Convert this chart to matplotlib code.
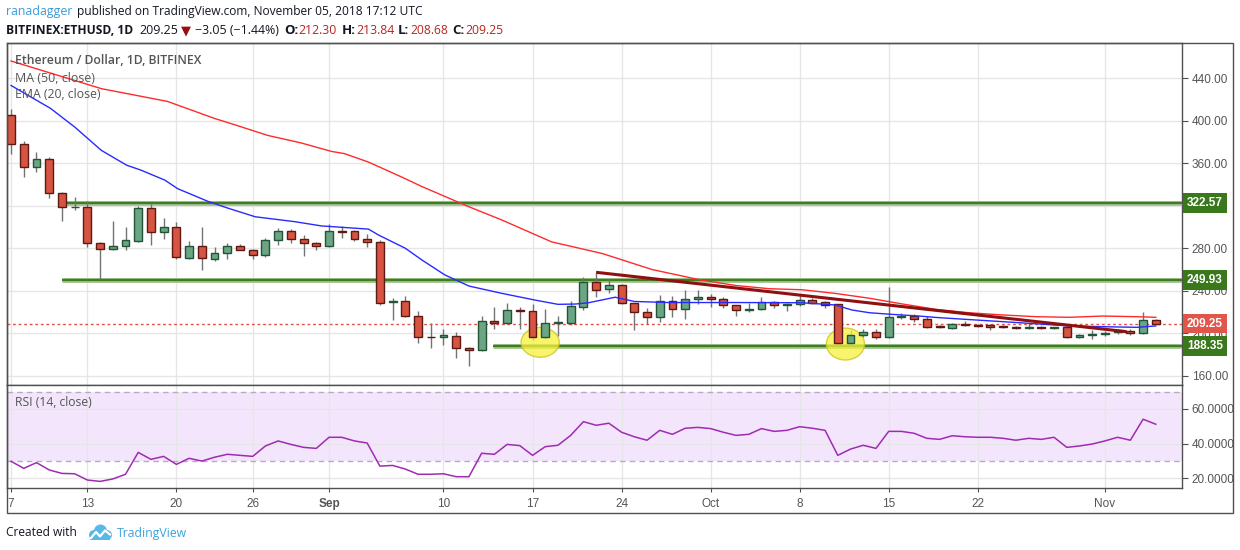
import matplotlib
matplotlib.use("Agg")
import matplotlib.pyplot as plt
import matplotlib.transforms as mtransforms
from matplotlib.patches import Rectangle, Ellipse, Circle

# ---------------- data ----------------
opens = [405, 378, 356, 364, 332, 318.5, 318.5, 285, 279, 282, 287, 318, 295, 300, 271, 282, 270, 276, 282, 278,
         274, 288, 296, 289, 285, 282, 296, 296, 289, 285.5, 229.5, 230, 216, 197, 196.3, 198, 186, 184, 211.3, 209.5,
         221.7, 221, 196.3, 209.5, 210, 225.1, 248, 241.4, 245.2, 228.3, 219.8, 215.1, 230.1, 222.6, 232, 234.2, 232, 226.4, 222, 222.6,
         229.2, 226.4, 227.3, 231.1, 229.2, 227.3, 191.2, 198.2, 201.6, 196.9, 215.1, 216.3, 213.2, 206.9, 205.3, 208.8, 207.5, 207.8, 206.9, 206,
         205.2, 205.8, 205.3, 205.6, 196.9, 198.2, 199.4, 201, 202.6, 200.7, 212.30]
highs = [411, 381, 370, 366, 333, 328, 324, 286, 306, 300, 320, 322, 308, 305, 287, 300, 281, 285, 284, 279,
         290, 299, 298, 292, 286, 303, 301, 297, 293, 288, 233, 235, 221, 209.5, 204, 201, 187, 216, 224.5, 228.5,
         224.5, 227.6, 223, 216.3, 230, 253.3, 256.5, 250.8, 246.4, 229, 224.1, 236.1, 235.1, 240.8, 240.8, 237, 234, 227, 228.3, 234.5,
         230, 229, 236.1, 233, 230, 228, 203.2, 204.1, 204, 243.9, 219.5, 218, 216, 208, 210, 211.3, 209, 209, 208, 207,
         209.4, 207, 206, 207, 199, 203.2, 202, 204, 204, 220.1, 213.84]
lows = [369, 347, 352, 327, 306, 316, 281, 251, 278, 278, 286, 283, 289, 270, 270, 260, 268, 270, 278, 270,
        272, 283, 285, 273, 278, 281, 290, 287, 281, 227, 213, 215, 191, 186.5, 189, 177, 169, 183, 204.4, 209,
        204.4, 194, 195, 197.2, 208, 222, 234.5, 238.2, 228, 203.5, 208.5, 211, 215.7, 213.8, 227.6, 225, 223.6, 216, 220, 222,
        224.1, 221.3, 226, 228, 224, 189.1, 190, 197, 195, 196, 213.2, 211, 204.7, 205, 204, 207, 206, 203.2, 205, 204,
        204, 204, 204, 196, 196, 194.4, 198, 199, 198.2, 199.5, 208.68]
closes = [378, 356, 364, 332, 318.5, 319, 285, 279, 282, 288, 318, 295, 300, 272, 282, 271, 276, 282, 278, 274,
          288, 296, 289, 285, 282, 296, 295.5, 289, 285.5, 229, 230, 216, 197, 196.5, 198.2, 186, 184, 211.3, 209.5, 221.7,
          221, 196.3, 209.5, 210.7, 225.4, 248, 241.1, 245.2, 228.3, 219.8, 215.1, 230.1, 222.6, 232, 234.2, 232, 226.4, 221.7, 222.5, 229.2,
          226.4, 227.6, 231.1, 228.9, 227, 191.2, 198.2, 201.6, 196.9, 215.1, 216.3, 213.2, 206.3, 205.6, 208.8, 207.5, 207, 206.3, 205.6, 205.2,
          205.8, 205.3, 205.8, 196.9, 198.2, 199.4, 200.3, 203.2, 200.7, 212.3, 209.25]

ma50_x = [0, 7.1, 9.7, 12.3, 16, 17.6, 20.2, 22.8, 25.2, 26.2, 28.1, 29.4, 30.7, 32.3, 36, 38.6, 42.5, 46.5,
          50.4, 54.3, 57, 59.6, 62.2, 64.8, 67.5, 70.1, 72.7, 75.3, 78, 80.6, 83.2, 85.8, 88.5, 90]
ma50_y = [456, 430, 424, 418, 402, 396, 386, 379, 371, 369, 361, 354, 347, 338, 319, 306.5, 286, 275,
          260, 250, 245, 242, 241, 237.6, 233, 227.6, 222.6, 219.4, 217.3, 215.7, 215.1, 216.3, 215.7, 215.1]

ema20_x = [0, 3.1, 5, 7.1, 9.1, 10.2, 12.1, 13.1, 15.5, 17.1, 19.2, 22.3, 24.4, 28.1, 28.9, 31, 32.3, 34.1, 36,
           38.6, 41.2, 43, 44.4, 45.4, 47.5, 49, 51.7, 57, 62.2, 64.8, 66.1, 67.5, 69.1, 71.4, 72.7, 75.3, 78, 80.6,
           83.2, 85.8, 88.5, 90]
ema20_y = [433, 411.5, 394, 372, 358, 353.5, 344, 336, 324, 317.5, 309.6, 305, 301, 298, 292.4, 280, 269, 255, 244.5,
           237.6, 231.3, 227.3, 227.6, 228.8, 234, 230, 229, 229, 228.8, 226.7, 222, 219.4, 218, 216.3, 215, 213, 211, 209,
           207, 206.3, 205.7, 207]

rsi = [29.9, 25.8, 29.1, 24.9, 22.9, 22.7, 19.1, 18.3, 19.7, 22.4, 35.0, 31.0, 32.7, 28.1, 31.6, 30.0, 32.2, 33.9, 33.3, 32.7,
       38.7, 41.6, 39.6, 37.9, 37.3, 43.7, 43.7, 41.6, 40.4, 27.1, 27.5, 25.4, 22.4, 22.4, 22.7, 21.0, 21.0, 34.5, 33.9, 39.6,
       38.9, 33.3, 38.3, 39.1, 44.8, 52.7, 50.6, 51.8, 46.6, 44.0, 42.0, 47.7, 45.4, 48.9, 49.4, 48.7, 46.6, 44.8, 45.4, 48.7,
       47.1, 47.7, 49.8, 48.9, 47.7, 33.3, 36.9, 39.1, 37.3, 47.1, 47.1, 46.0, 43.1, 42.5, 44.6, 44.0, 43.7, 43.7, 43.1, 42.0,
       43.1, 42.5, 43.7, 37.9, 38.7, 39.8, 41.6, 43.7, 42.0, 54.1, 51.2]

levels = [322.57, 249.93, 188.35]
level_start = [4.3, 4.0, 37.9]
trend_x = [46.0, 87.7]
trend_y = [257.4, 201.6]
ellipse_x = [41.6, 65.6]
ellipse_y = [191.6, 190.0]

tick_idx = [0, 6, 13, 19, 25, 34, 41, 48, 55, 62, 69, 76, 86]
tick_lbl = ["7", "13", "20", "26", "Sep", "10", "17", "24", "Oct", "8", "15", "22", "Nov"]
price_ticks = [160, 200, 240, 280, 320, 360, 400, 440]
rsi_ticks = [20, 40, 60]

# ---------------- figure ----------------
W, H = 1240, 550
fig = plt.figure(figsize=(12.4, 5.5), dpi=100)
fig.patch.set_facecolor("white")
AX_FONT = "Liberation Sans"
TXT_FONT = "Open Sans"
GRID = "#e6e6e6"
FRAME = "#505050"
LBL = "#555555"


def fb(x0, y0, x1, y1):
    return [x0 / W, 1 - y1 / H, (x1 - x0) / W, (y1 - y0) / H]


ax = fig.add_axes(fb(6.7, 43, 1182, 385))
rx = fig.add_axes(fb(6.7, 385, 1182, 488), sharex=ax)

XL = (-0.34, 92.06)
ax.set_xlim(*XL)
ax.set_ylim(151.5, 472.9)
rx.set_ylim(14.5, 73.8)

for a in (ax, rx):
    a.set_facecolor("white")
    for s in a.spines.values():
        s.set_color(FRAME)
        s.set_linewidth(1)
    a.grid(True, color=GRID, lw=1)
    a.set_axisbelow(True)
    a.yaxis.tick_right()

# price axis ticks (the 320.00 label is hidden behind the 322.57 box in the reference)
ax.set_yticks(price_ticks)
ax.set_yticklabels(["" if v == 320 else f"{v:.2f}" for v in price_ticks], fontfamily=AX_FONT)
ax.tick_params(axis="y", length=4, color=FRAME, labelcolor=LBL, labelsize=8.5, pad=3)
ax.set_xticks(tick_idx)
ax.tick_params(axis="x", bottom=False, labelbottom=False)

# rsi axis ticks
rx.set_yticks(rsi_ticks)
rx.set_yticklabels([f"{v:.4f}" for v in rsi_ticks], fontfamily=AX_FONT)
rx.tick_params(axis="y", length=4, color=FRAME, labelcolor=LBL, labelsize=8.5, pad=3)
rx.set_xticks(tick_idx)
rx.set_xticklabels(tick_lbl, fontfamily=AX_FONT)
for t, s in zip(rx.get_xticklabels(), tick_lbl):
    if s == "Sep":
        t.set_fontweight("bold")
rx.tick_params(axis="x", length=3, color=FRAME, labelcolor=LBL, labelsize=8.5, pad=4)

# ---------------- candles ----------------
UP_FC, UP_EC = "#6ba583", "#225437"
DN_FC, DN_EC = "#d75442", "#5b1a13"
for i, (o, h, l, c) in enumerate(zip(opens, highs, lows, closes)):
    up = c >= o
    ax.vlines(i, l, h, color="#737375", lw=1, zorder=3)
    ax.add_patch(Rectangle((i - 0.31, min(o, c)), 0.62, abs(c - o),
                           fc=UP_FC if up else DN_FC, ec=UP_EC if up else DN_EC,
                           lw=1, zorder=4))

# moving averages
ax.plot(ma50_x, ma50_y, color="#ff2a2a", lw=1.0, zorder=5)
ax.plot(ema20_x, ema20_y, color="#2a2aff", lw=1.0, zorder=5)

# horizontal levels
for lv, st in zip(levels, level_start):
    ax.hlines(lv, st, XL[1], color="#a9c99b", lw=3.6, zorder=2.6)
    ax.hlines(lv, st, XL[1], color="#3f7d1f", lw=1.7, zorder=2.7)

# trend line
ax.plot(trend_x, trend_y, color="#8e1010", lw=2.2, zorder=5.5, solid_capstyle="butt")

# current price dotted line
ax.axhline(closes[-1], color="#e0524a", lw=1, ls=(0, (2, 2)), zorder=2.5)

# ellipses
for ex, ey, eh in zip(ellipse_x, ellipse_y, [28, 30]):
    ax.add_patch(Ellipse((ex, ey), 3.0, eh, fc="#f7f13c", ec="#c9c21a", lw=1, alpha=0.75, zorder=3.5))

# right axis label boxes
blend = mtransforms.blended_transform_factory(ax.transAxes, ax.transData)
for val, fc in [(322.57, "#3a781c"), (249.93, "#3a781c"), (188.35, "#3a781c"), (closes[-1], "#e0564a")]:
    ax.annotate(f"{val:.2f}", xy=(1.0, val), xycoords=blend, xytext=(5, 0), textcoords="offset pixels",
                ha="left", va="center", color="white", fontsize=8.5, fontweight="bold", fontfamily=AX_FONT,
                bbox=dict(boxstyle="square,pad=0.32", fc=fc, ec="none"), zorder=20, annotation_clip=False)

# RSI pane
rx.axhspan(30, 70, color="#f3e6fc", zorder=0.2, lw=0)
rx.axhline(70, color="#b9aac2", lw=1, ls=(0, (4, 3)), zorder=1)
rx.axhline(30, color="#b9aac2", lw=1, ls=(0, (4, 3)), zorder=1)
rx.plot(range(len(rsi)), rsi, color="#9f2bb2", lw=1.1, zorder=3)

# outer frame
fig.add_artist(Rectangle((6.7 / W, 1 - 513 / H), (1232.6 - 6.7) / W, (513 - 43) / H,
                         transform=fig.transFigure, fill=False, ec=FRAME, lw=1))

# ---------------- texts ----------------
renderer = fig.canvas.get_renderer()


def put(xpx, ypx, s, target_w=None, size=9, **kw):
    t = fig.text(xpx / W, 1 - ypx / H, s, fontsize=size, va="center", ha="left", **kw)
    if target_w:
        w = t.get_window_extent(renderer).width
        if w > 0:
            t.set_fontsize(size * target_w / w)
    return t


put(6, 12, "ranadagger", 67, color="#3a9bd9", family=TXT_FONT)
put(77, 12, "published on TradingView.com, November 05, 2018 17:12 UTC", 351, color="#131722", family=TXT_FONT)

put(6, 30, "BITFINEX:ETHUSD, 1D", 127, color="#131722", family=TXT_FONT, fontweight="bold")
put(139, 30, "209.25", 39, color="#131722", family=TXT_FONT)
put(181, 31, "\u25BC", 10, color="#9b0d0d", family="DejaVu Sans")
put(195, 30, "\u22123.05 (\u22121.44%)", 84, color="#131722", family=TXT_FONT)
for xl, lab, xv, v in [(284, "O:", 298, "212.30"), (342, "H:", 356, "213.84"),
                       (398, "L:", 410, "208.68"), (452, "C:", 465, "209.25")]:
    put(xl, 30, lab, None, 9.5, color="#131722", family=TXT_FONT, fontweight="bold")
    put(xv, 30, v, 38, color="#b8241c", family=TXT_FONT)

put(15, 61, "Ethereum / Dollar, 1D, BITFINEX", 187, color="#555555", family=TXT_FONT, fontweight="semibold")
put(15, 78, "MA (50, close)", 80, color="#555555", family=TXT_FONT)
put(15, 95, "EMA (20, close)", 86, color="#555555", family=TXT_FONT)
put(15, 403, "RSI (14, close)", 77, color="#555555", family=TXT_FONT)

put(6, 533, "Created with", 72, color="#131722", family=TXT_FONT)
put(117, 533, "TradingView", 71, color="#3ca3dd", family=TXT_FONT)

# logo
lg = fig.add_axes(fb(87, 522, 113, 543))
lg.set_xlim(0, 26)
lg.set_ylim(0, 21)
lg.axis("off")
for cx, cy, r in [(7, 8, 5), (13.5, 12, 6.5), (20, 8, 5)]:
    lg.add_patch(Circle((cx, cy), r, color="#5ab8e8", lw=0))
lg.add_patch(Rectangle((3, 3), 20, 6, color="#5ab8e8", lw=0))
lg.plot([4, 9, 13, 18, 23], [5, 11, 6.5, 12.5, 8.5], color="white", lw=1.6)

fig.savefig("out.png", dpi=100, facecolor="white")
